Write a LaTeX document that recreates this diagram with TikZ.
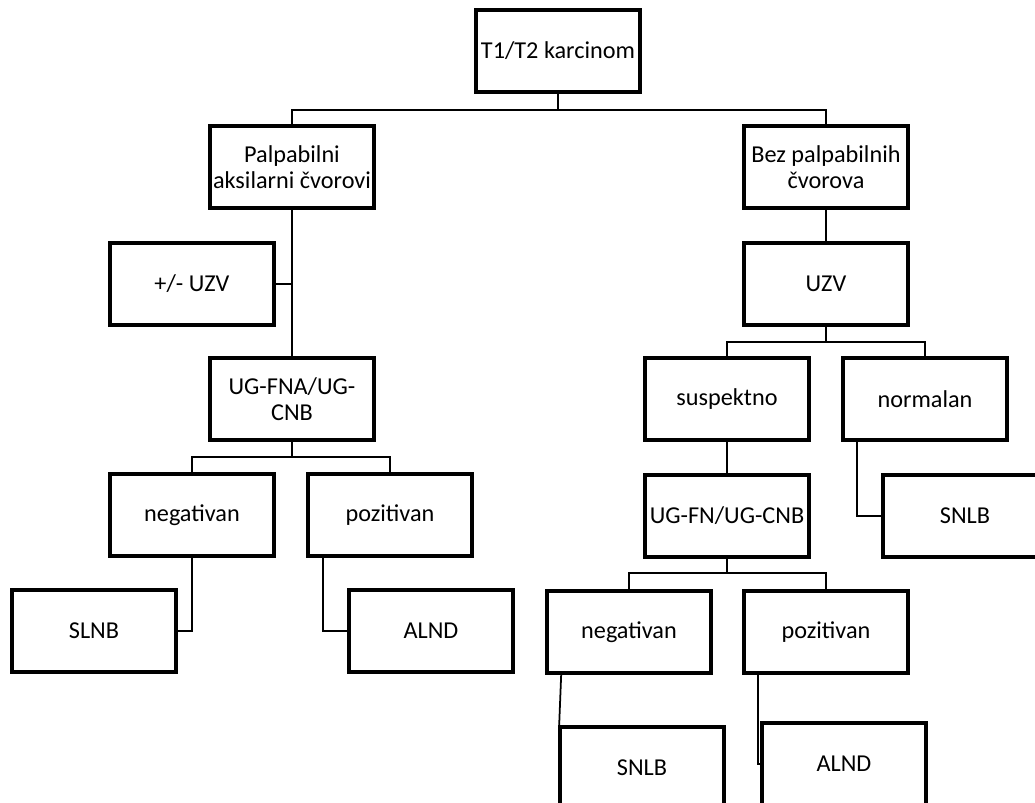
\documentclass[tikz,border=0pt]{standalone}
\usepackage{fontspec}
\setmainfont{Carlito}
\usepackage{tikz}
\usetikzlibrary{calc}
\tikzstyle{box} = [rectangle, minimum width=3.28cm, minimum height=1.64cm, inner sep=1pt, align=center, draw=black, line width=2.1pt, font=\fontsize{13.8}{14.5}\selectfont]
\tikzstyle{link} = [line width=1pt]

\begin{document}
\begin{tikzpicture}[x=0.02cm, y=-0.02cm]
\clip (0,0) rectangle (1035,803);
\fill[white] (0,0) rectangle (1035,803);

\node (carcinoma) [box] at (558,51) {T1/T2 karcinom};
\node (palpable) [box] at (292,167) {Palpabilni\\aksilarni čvorovi};
\node (nonpalpable) [box] at (826,167) {Bez palpabilnih\\čvorova};

% left branch
\node (usleft) [box] at (192,284) {+/- UZV};
\node (biopsyleft) [box] at (292,399) {UG-FNA/UG-\\CNB};
\node (negleft) [box] at (192,515) {negativan};
\node (posleft) [box] at (390,515) {pozitivan};
\node (slnbleft) [box] at (94,631) {SLNB};
\node (alndleft) [box] at (431,631) {ALND};

% right branch
\node (usright) [box] at (826,284) {UZV};
\node (suspect) [box] at (727,399) {suspektno};
\node (normal) [box] at (925,399) {normalan};
\node (biopsyright) [box] at (727,516) {UG-FN/UG-CNB};
\node (snlbright) [box] at (965,516) {SNLB};
\node (negright) [box] at (629,632) {negativan};
\node (posright) [box] at (826,632) {pozitivan};
\node (snlbbottom) [box] at (642,768) {SNLB};
\node (alndbottom) [box] at (844,764) {ALND};

\coordinate (split1) at (558,110);
\coordinate (split2) at (292,457);
\coordinate (split3) at (826,342);
\coordinate (split4) at (727,573);

\draw [link] (carcinoma.south) -- (split1);
\draw [link] (palpable.north) |- (split1) -| (nonpalpable.north);

\draw [link] (palpable.south) -- (biopsyleft.north);
\draw [link] (usleft.east) -- (usleft.east -| palpable.south);
\draw [link] (biopsyleft.south) -- (split2);
\draw [link] (negleft.north) |- (split2) -| (posleft.north);
\draw [link] (negleft.south) |- (slnbleft.east);
\draw [link] ($(posleft.south west)+(17,0)$) |- (alndleft.west);

\draw [link] (nonpalpable.south) -- (usright.north);
\draw [link] (usright.south) -- (split3);
\draw [link] (suspect.north) |- (split3) -| (normal.north);
\draw [link] (suspect.south) -- (biopsyright.north);
\draw [link] ($(normal.south west)+(16,0)$) |- (snlbright.west);
\draw [link] (biopsyright.south) -- (split4);
\draw [link] (negright.north) |- (split4) -| (posright.north);
\draw [link] ($(negright.south west)+(16,0)$) -- ($(snlbbottom.north west)+(1,0)$);
\draw [link] ($(posright.south west)+(16,0)$) |- (alndbottom.west);
\end{tikzpicture}
\end{document}
